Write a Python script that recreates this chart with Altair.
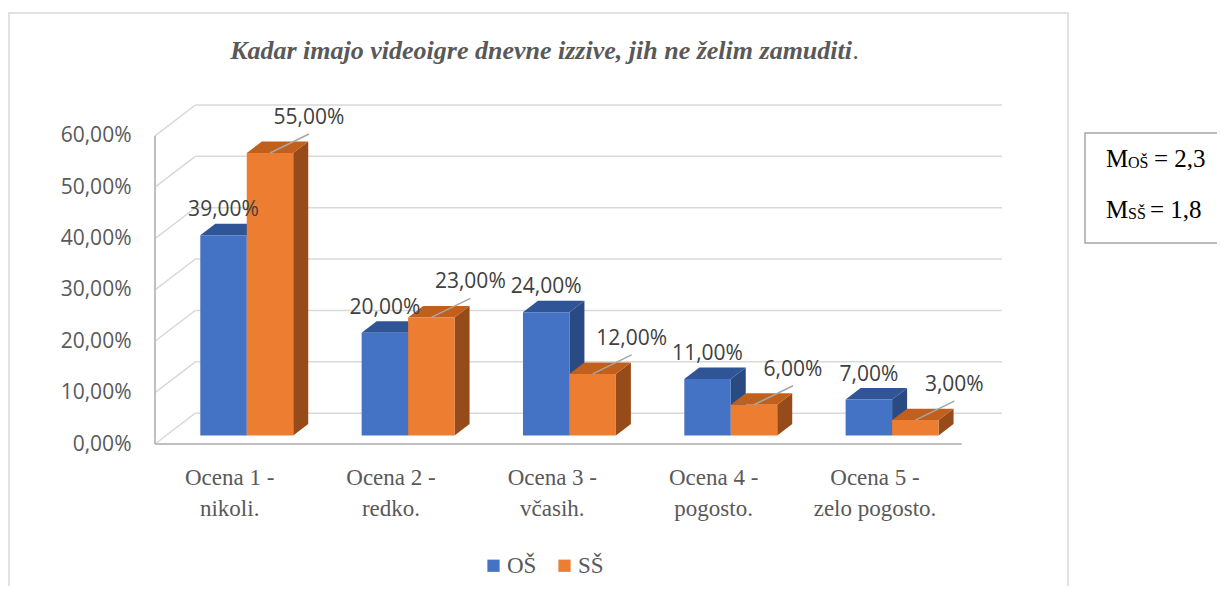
import altair as alt
import pandas as pd

# ---------------- data ----------------
CATEGORIES = ["Ocena 1 -\nnikoli.", "Ocena 2 -\nredko.", "Ocena 3 -\nvčasih.",
              "Ocena 4 -\npogosto.", "Ocena 5 -\nzelo pogosto."]
SERIES = ["OŠ", "SŠ"]
OS_VALUES = [39, 20, 24, 11, 7]
SS_VALUES = [55, 23, 12, 6, 3]
Y_TICKS = [0, 10, 20, 30, 40, 50, 60]
TITLE = "Kadar imajo videoigre dnevne izzive, jih ne želim zamuditi"
MEAN_GROUPS = ["OŠ", "SŠ"]
MEAN_VALUES = ["2,3", "1,8"]

# ---------------- styles ----------------
FRONT = ["#4472C4", "#ED7D31"]
TOP = ["#2F5597", "#C0601C"]
SIDE = ["#2A4A84", "#974A1A"]
GRID = "#D9D9D9"
AXISLINE = "#BFBFBF"
TXT = "#595959"
SERIF = "Liberation Serif"
SANS = "Open Sans"

# 3-D geometry (axis units)
WALL_DX, WALL_DY = 0.25, 6.0
Z0, DZ = 0.275, 0.372
BAR_W = 0.288
N = len(CATEGORIES)
YMAX = max(Y_TICKS)

rows, side_rows, top_rows = [], [], []
bdx, bdy = DZ * WALL_DX, DZ * WALL_DY
for i in range(N):
    for s, vals in enumerate([OS_VALUES, SS_VALUES]):
        v = vals[i]
        cx = i + 0.5 + Z0 * WALL_DX
        fx0 = cx - BAR_W if s == 0 else cx
        fx1 = fx0 + BAR_W
        fyb = Z0 * WALL_DY
        fyt = fyb + v
        bid = f"{i}-{s}"
        rows.append(dict(bar=bid, series=SERIES[s], value=v, fx0=fx0, fx1=fx1,
                         fxc=(fx0 + fx1) / 2, fyb=fyb, fyt=fyt))
        side_rows += [dict(bar=bid, series=SERIES[s], sx=fx1, sy=fyb, sy2=fyt),
                      dict(bar=bid, series=SERIES[s], sx=fx1 + bdx, sy=fyb + bdy, sy2=fyt + bdy)]
        top_rows += [dict(bar=bid, series=SERIES[s], ty=fyt, tx=fx0, tx2=fx1),
                     dict(bar=bid, series=SERIES[s], ty=fyt + bdy, tx=fx0 + bdx, tx2=fx1 + bdx)]
bars = pd.DataFrame(rows)
sides = pd.DataFrame(side_rows)
tops = pd.DataFrame(top_rows)

grid = pd.DataFrame({"t": Y_TICKS})
grid["bx0"] = WALL_DX
grid["bx1"] = N + WALL_DX
grid["by"] = grid["t"] + WALL_DY
grid["sx0"] = 0.0
grid["sx1"] = WALL_DX

edges = pd.DataFrame([dict(x=0, x2=0, y=0, y2=YMAX), dict(x=0, x2=N, y=0, y2=0)])
cats = pd.DataFrame({"cat": CATEGORIES, "cx": [i + 0.5 for i in range(N)], "y": 0})

xs = alt.Scale(domain=[0, N + WALL_DX], nice=False, zero=False)
ys = alt.Scale(domain=[0, YMAX + WALL_DY], nice=False, zero=False)
yaxis = alt.Axis(values=Y_TICKS, title=None, domain=False, ticks=False, grid=False,
                 labelExpr="replace(format(datum.value, '.2f'), '.', ',') + '%'",
                 labelFont=SANS, labelFontSize=21, labelColor=TXT, labelPadding=24)


def X(f):
    return alt.X(f, type="quantitative", scale=xs, axis=None, stack=None)


def Y(f):
    return alt.Y(f, type="quantitative", scale=ys, axis=yaxis, stack=None)


one = pd.DataFrame({"k": [0]})
LABEL_EXPR = "replace(format(datum.value, '.2f'), '.', ',') + '%'"

frame = alt.Chart(one).mark_rect(fillOpacity=0, stroke=GRID, strokeWidth=1.5).encode(
    x=alt.value(-146), x2=alt.value(913), y=alt.value(-92), y2=alt.value(620))

back_grid = alt.Chart(grid).mark_rule(color=GRID, strokeWidth=1.5).encode(
    x=X("bx0"), x2=alt.X2("bx1"), y=Y("by"), y2=alt.Y2("by"))
side_grid = alt.Chart(grid).mark_rule(color=GRID, strokeWidth=1.5).encode(
    x=X("sx0"), x2=alt.X2("sx1"), y=Y("t"), y2=alt.Y2("by"))
front_edges = alt.Chart(edges).mark_rule(color=AXISLINE, strokeWidth=2).encode(
    x=X("x"), x2=alt.X2("x2"), y=Y("y"), y2=alt.Y2("y2"))

side_faces = alt.Chart(sides).mark_area(orient="vertical").encode(
    x=X("sx"), y=Y("sy"), y2=alt.Y2("sy2"), detail="bar:N",
    color=alt.Color("series:N", scale=alt.Scale(domain=SERIES, range=SIDE), legend=None))
top_faces = alt.Chart(tops).mark_area(orient="horizontal").encode(
    y=Y("ty"), x=X("tx"), x2=alt.X2("tx2"), detail="bar:N",
    color=alt.Color("series:N", scale=alt.Scale(domain=SERIES, range=TOP), legend=None))
front_faces = alt.Chart(bars).mark_rect().encode(
    x=X("fx0"), x2=alt.X2("fx1"), y=Y("fyb"), y2=alt.Y2("fyt"),
    color=alt.Color("series:N", scale=alt.Scale(domain=SERIES, range=FRONT),
                    legend=alt.Legend(title=None, orient="none", legendX=327, legendY=449,
                                      direction="horizontal", symbolType="square",
                                      symbolSize=150, symbolStrokeWidth=0,
                                      labelFont=SERIF, labelFontSize=23, labelColor=TXT,
                                      labelOffset=2, columnPadding=16, padding=0)))

blue_labels = alt.Chart(bars).transform_filter(
    alt.datum.series == SERIES[0]).transform_calculate(label=LABEL_EXPR).mark_text(
    font=SANS, fontSize=21, color="#404040", baseline="middle", align="center", dy=-25).encode(
    x=X("fxc"), y=Y("fyt"), text="label:N")
leaders = alt.Chart(bars).transform_filter(alt.datum.series == SERIES[1]).mark_rule(
    color="#A6A6A6", strokeWidth=1.5, x2Offset=39, y2Offset=-19).encode(
    x=X("fxc"), x2=alt.X2("fxc"), y=Y("fyt"), y2=alt.Y2("fyt"))
orange_labels = alt.Chart(bars).transform_filter(
    alt.datum.series == SERIES[1]).transform_calculate(label=LABEL_EXPR).mark_text(
    font=SANS, fontSize=21, color="#404040", baseline="middle", align="center",
    dx=39, dy=-35).encode(x=X("fxc"), y=Y("fyt"), text="label:N")

cat_labels = alt.Chart(cats).mark_text(
    font=SERIF, fontSize=23, color=TXT, lineBreak="\n", lineHeight=31,
    baseline="middle", align="center", dy=34, dx=-6).encode(
    x=X("cx"), y=Y("y"), text="cat:N")

title = alt.Chart(one).mark_text(
    text=TITLE, font=SERIF, fontSize=26, fontStyle="italic", fontWeight="bold",
    color=TXT, align="right", baseline="alphabetic").encode(
    x=alt.value(697), y=alt.value(-46))
title_dot = alt.Chart(one).mark_text(
    text=".", font=SERIF, fontSize=26, fontStyle="italic", fontWeight="normal",
    color=TXT, align="left", baseline="alphabetic").encode(
    x=alt.value(698), y=alt.value(-46))

mbox = alt.Chart(one).mark_rect(fillOpacity=0, stroke="#A6A6A6", strokeWidth=1.5).encode(
    x=alt.value(930), x2=alt.value(1100), y=alt.value(28), y2=alt.value(138))

REST_X = [999, 995]
mean_layers = []
for j, (g, val) in enumerate(zip(MEAN_GROUPS, MEAN_VALUES)):
    base_y = 62 + 51 * j
    mean_layers.append(alt.Chart(one).mark_text(
        text="M", font=SERIF, fontSize=25, color="#000000", align="left",
        baseline="alphabetic").encode(x=alt.value(951), y=alt.value(base_y)))
    mean_layers.append(alt.Chart(one).mark_text(
        text=g, font=SERIF, fontSize=16, color="#000000", align="left",
        baseline="alphabetic").encode(x=alt.value(973), y=alt.value(base_y + 1)))
    mean_layers.append(alt.Chart(one).mark_text(
        text="= " + val, font=SERIF, fontSize=25, color="#000000", align="left",
        baseline="alphabetic").encode(x=alt.value(REST_X[j]), y=alt.value(base_y)))

chart = alt.layer(
    frame, back_grid, side_grid, front_edges,
    side_faces, top_faces, front_faces,
    blue_labels, leaders, orange_labels, cat_labels, title, title_dot, mbox, *mean_layers
).resolve_scale(color="independent").properties(
    width=847, height=339,
    autosize=alt.AutoSizeParams(type="none"),
    padding={"left": 147, "top": 97, "right": 215, "bottom": 142},
).configure_view(stroke=None)

chart.save("out.html", embed_options={"renderer": "svg", "actions": False})
